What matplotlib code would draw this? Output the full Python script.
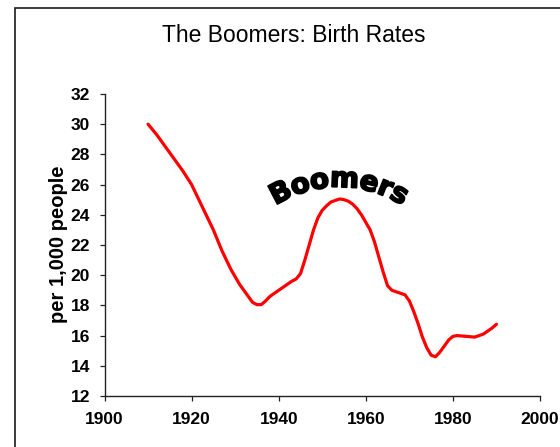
import numpy as np
import matplotlib
matplotlib.use('Agg')
import matplotlib.pyplot as plt
import matplotlib.patheffects as pe
from matplotlib.patches import Rectangle
from matplotlib.font_manager import FontProperties
from matplotlib.textpath import TextToPath

# ---- data ----
years = [1910, 1912, 1914, 1916, 1918, 1920, 1921, 1923, 1925, 1927, 1929, 1931,
         1933, 1934, 1935, 1936, 1937, 1938, 1940, 1942, 1943, 1944, 1945, 1946,
         1947, 1948, 1949, 1950, 1951, 1952, 1954, 1955, 1956, 1957, 1958, 1959,
         1960, 1961, 1962, 1963, 1964, 1965, 1966, 1967, 1968, 1969, 1970, 1971,
         1972, 1973, 1974, 1975, 1976, 1977, 1978, 1979, 1980, 1981, 1983, 1985,
         1987, 1989, 1990]
rates = [30.0, 29.3, 28.5, 27.7, 26.9, 26.0, 25.4, 24.2, 23.0, 21.6, 20.4, 19.4,
         18.6, 18.2, 18.05, 18.05, 18.3, 18.6, 19.0, 19.4, 19.6, 19.75, 20.1, 21.0,
         22.0, 23.0, 23.8, 24.3, 24.6, 24.85, 25.05, 25.0, 24.9, 24.7, 24.4, 24.0,
         23.5, 23.0, 22.2, 21.2, 20.2, 19.3, 19.0, 18.9, 18.8, 18.7, 18.3, 17.6,
         16.8, 15.9, 15.2, 14.7, 14.6, 14.9, 15.3, 15.7, 15.95, 16.0, 15.95, 15.9,
         16.1, 16.5, 16.75]
x_ticks = [1900, 1920, 1940, 1960, 1980, 2000]
y_ticks = [12, 14, 16, 18, 20, 22, 24, 26, 28, 30, 32]
title_text = "The Boomers: Birth Rates"
ylabel_text = "per 1,000 people"
annotation_text = "Boomers"

W, H = 560, 447
fig = plt.figure(figsize=(W / 100, H / 100), dpi=100)
fig.patch.set_facecolor('white')

# outer chart-area frame (only left and top edges visible in reference)
frame = Rectangle((14.5 / W, -0.05), 1.2, (H - 7.5) / H + 0.05,
                  transform=fig.transFigure, fill=False, lw=1.2,
                  ec='#1a1a1a', clip_on=False)
fig.add_artist(frame)

ax = fig.add_axes([104.5 / W, 1 - 396 / H, (540 - 104.5) / W, (396 - 94) / H])
ax.plot(years, rates, color='#ff0000', lw=2.3,
        solid_joinstyle='round', solid_capstyle='round')
ax.set_xlim(1900, 2000)
ax.set_ylim(12, 32)
ax.set_xticks(x_ticks)
ax.set_yticks(y_ticks)
ax.spines['top'].set_visible(False)
ax.spines['right'].set_visible(False)
for s in ('left', 'bottom'):
    ax.spines[s].set_linewidth(1.0)
    ax.spines[s].set_color('#222222')
ax.tick_params(axis='both', direction='out', length=3.3, width=0.9,
               color='#222222', labelsize=12.5)
ax.tick_params(axis='y', pad=7)
ax.tick_params(axis='x', pad=8)
for lab in ax.get_xticklabels() + ax.get_yticklabels():
    lab.set_fontfamily('Liberation Sans')
    lab.set_fontweight('bold')

fig.text(58 / W, 1 - 244 / H, ylabel_text, rotation=90, ha='center',
         va='center', fontsize=14.5, fontweight='bold', family='Liberation Sans')
fig.text(294 / W, 1 - 36 / H, title_text, ha='center', va='center',
         fontsize=16.5, family='Liberation Sans')

# ---- "Boomers" text placed along an arc ----
fp = FontProperties(family='DejaVu Sans', weight='bold', size=20)
t2p = TextToPath()
spacing = -0.5  # px between letters
widths = []
for ch in annotation_text:
    w, h, d = t2p.get_text_width_height_descent(ch, fp, ismath=False)
    widths.append(w * 100 / 72)
total = sum(widths) + spacing * (len(widths) - 1)
cx, cy, R = 339.0, 305.0, 118.0
pos = -total / 2
for ch, w in zip(annotation_text, widths):
    center = pos + w / 2
    theta = center / R
    px = cx + R * np.sin(theta)
    py = cy - R * np.cos(theta)
    fig.text(px / W, 1 - py / H, ch, fontproperties=fp, ha='center',
             va='baseline', rotation=-np.degrees(theta),
             rotation_mode='anchor', color='black',
             path_effects=[pe.withStroke(linewidth=1.3, foreground='black')])
    pos += w + spacing

fig.savefig('out.png', dpi=100)
